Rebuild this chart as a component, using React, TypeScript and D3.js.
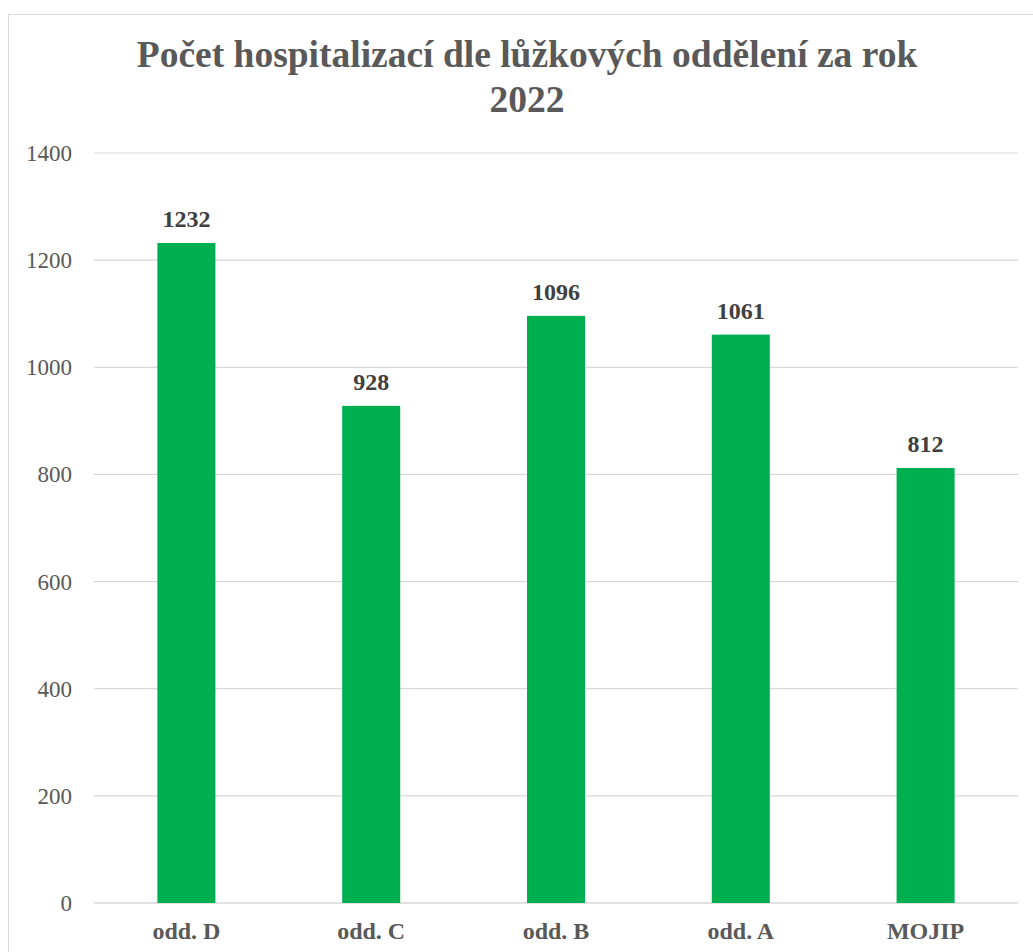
import * as d3 from 'd3'

const categories = ['odd. D', 'odd. C', 'odd. B', 'odd. A', 'MOJIP']
const hospitalizations = [1232, 928, 1096, 1061, 812]
const yTicks = [0, 200, 400, 600, 800, 1000, 1200, 1400]
const titleLines = ['Počet hospitalizací dle lůžkových oddělení za rok', '2022']

const W = 1033
const H = 952
const FONT = '"Liberation Serif", "Times New Roman", serif'

export default function App() {
  const plot = { left: 94, right: 1018, top: 153, bottom: 903 }

  const x = d3.scaleBand<string>().domain(categories).range([plot.left, plot.right]).padding(0)
  const y = d3.scaleLinear().domain([0, 1400]).range([plot.bottom, plot.top])
  const barW = x.bandwidth() * 0.314

  return (
    <svg
      width={W}
      height={H}
      style={{ position: 'absolute', left: 0, top: 0, display: 'block', background: '#fff' }}
    >
      {/* chart border, runs off the right and bottom edge */}
      <rect x={8.5} y={14.5} width={W + 20} height={H + 20} fill="#fff" stroke="#d9d9d9" strokeWidth={1} />

      {titleLines.map((t, i) => (
        <text
          key={i}
          x={527}
          y={67 + i * 45}
          textAnchor="middle"
          fontFamily={FONT}
          fontWeight="bold"
          fontSize={37.5}
          fill="#595959"
        >
          {t}
        </text>
      ))}

      {/* grid lines */}
      {yTicks.map(t => (
        <line
          key={t}
          x1={plot.left}
          x2={plot.right}
          y1={y(t)}
          y2={y(t)}
          stroke="#d9d9d9"
          strokeWidth={t === 0 ? 1.5 : 1.2}
        />
      ))}

      {/* y tick labels */}
      {yTicks.map(t => (
        <text
          key={t}
          x={72}
          y={y(t) + 8}
          textAnchor="end"
          fontFamily={FONT}
          fontSize={23}
          fill="#595959"
        >
          {t}
        </text>
      ))}

      {/* bars */}
      {categories.map((c, i) => {
        const cx = (x(c) ?? 0) + x.bandwidth() / 2
        return (
          <g key={c}>
            <rect
              x={cx - barW / 2}
              y={y(hospitalizations[i])}
              width={barW}
              height={y(0) - y(hospitalizations[i])}
              fill="#00b050"
            />
            <text
              x={cx}
              y={y(hospitalizations[i]) - 16}
              textAnchor="middle"
              fontFamily={FONT}
              fontWeight="bold"
              fontSize={24}
              fill="#404040"
            >
              {hospitalizations[i]}
            </text>
            <text
              x={cx}
              y={939}
              textAnchor="middle"
              fontFamily={FONT}
              fontWeight="bold"
              fontSize={24}
              fill="#595959"
            >
              {c}
            </text>
          </g>
        )
      })}
    </svg>
  )
}
